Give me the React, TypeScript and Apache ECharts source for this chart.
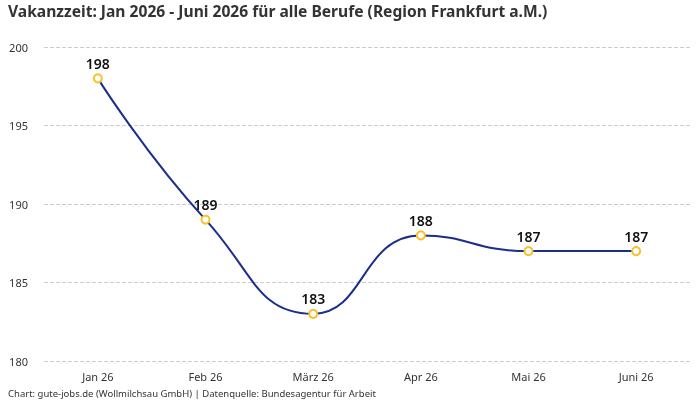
import React, { useEffect, useRef } from "react";
import * as echarts from "echarts";

const categories = ["Jan 26", "Feb 26", "März 26", "Apr 26", "Mai 26", "Juni 26"];
const values = [198, 189, 183, 188, 187, 187];
const titleText = "Vakanzzeit: Jan 2026 - Juni 2026 für alle Berufe (Region Frankfurt a.M.)";
const footerText = "Chart: gute-jobs.de (Wollmilchsau GmbH) | Datenquelle: Bundesagentur für Arbeit";

const FONT = "'Noto Sans', Roboto, sans-serif";

export default function App() {
  const ref = useRef<HTMLDivElement>(null);
  useEffect(() => {
    if (!ref.current) return;
    const chart = echarts.init(ref.current, undefined, { renderer: "svg" });
    chart.setOption({
      animation: false,
      title: {
        text: titleText,
        left: 8,
        top: 1,
        padding: 0,
        textStyle: {
          fontFamily: FONT,
          fontSize: 15.6,
          fontWeight: "bold",
          color: "#333",
          lineHeight: 19,
        },
      },
      graphic: [
        {
          type: "text",
          x: 8,
          y: 393,
          style: { text: footerText, fontFamily: FONT, fontSize: 9.5, fill: "#333", verticalAlign: "middle" },
        },
      ],
      grid: { left: 44, right: 10, top: 47, bottom: 39 },
      xAxis: {
        type: "category",
        data: categories,
        boundaryGap: true,
        axisLine: { show: false },
        axisTick: { show: false },
        axisLabel: { fontFamily: FONT, fontSize: 11, color: "#333", margin: 10 },
      },
      yAxis: {
        type: "value",
        min: 180,
        max: 200,
        interval: 5,
        axisLine: { show: false },
        axisTick: { show: false },
        axisLabel: { fontFamily: FONT, fontSize: 11, color: "#333", margin: 16 },
        splitLine: { lineStyle: { type: "dashed", color: "#ccc" } },
      },
      series: [
        {
          type: "line",
          data: values,
          smooth: true,
          symbol: "circle",
          symbolSize: 8,
          showAllSymbol: true,
          lineStyle: { color: "#1a2e8c", width: 2 },
          itemStyle: { color: "#fff", borderColor: "#f7c22a", borderWidth: 2 },
          label: {
            show: true,
            position: "top",
            distance: 3,
            fontFamily: FONT,
            fontSize: 14,
            fontWeight: 600,
            color: "#111",
          },
        },
      ],
    });
    return () => chart.dispose();
  }, []);
  return (
    <div
      ref={ref}
      style={{ position: "fixed", left: 0, top: 0, width: 700, height: 400 }}
    />
  );
}
